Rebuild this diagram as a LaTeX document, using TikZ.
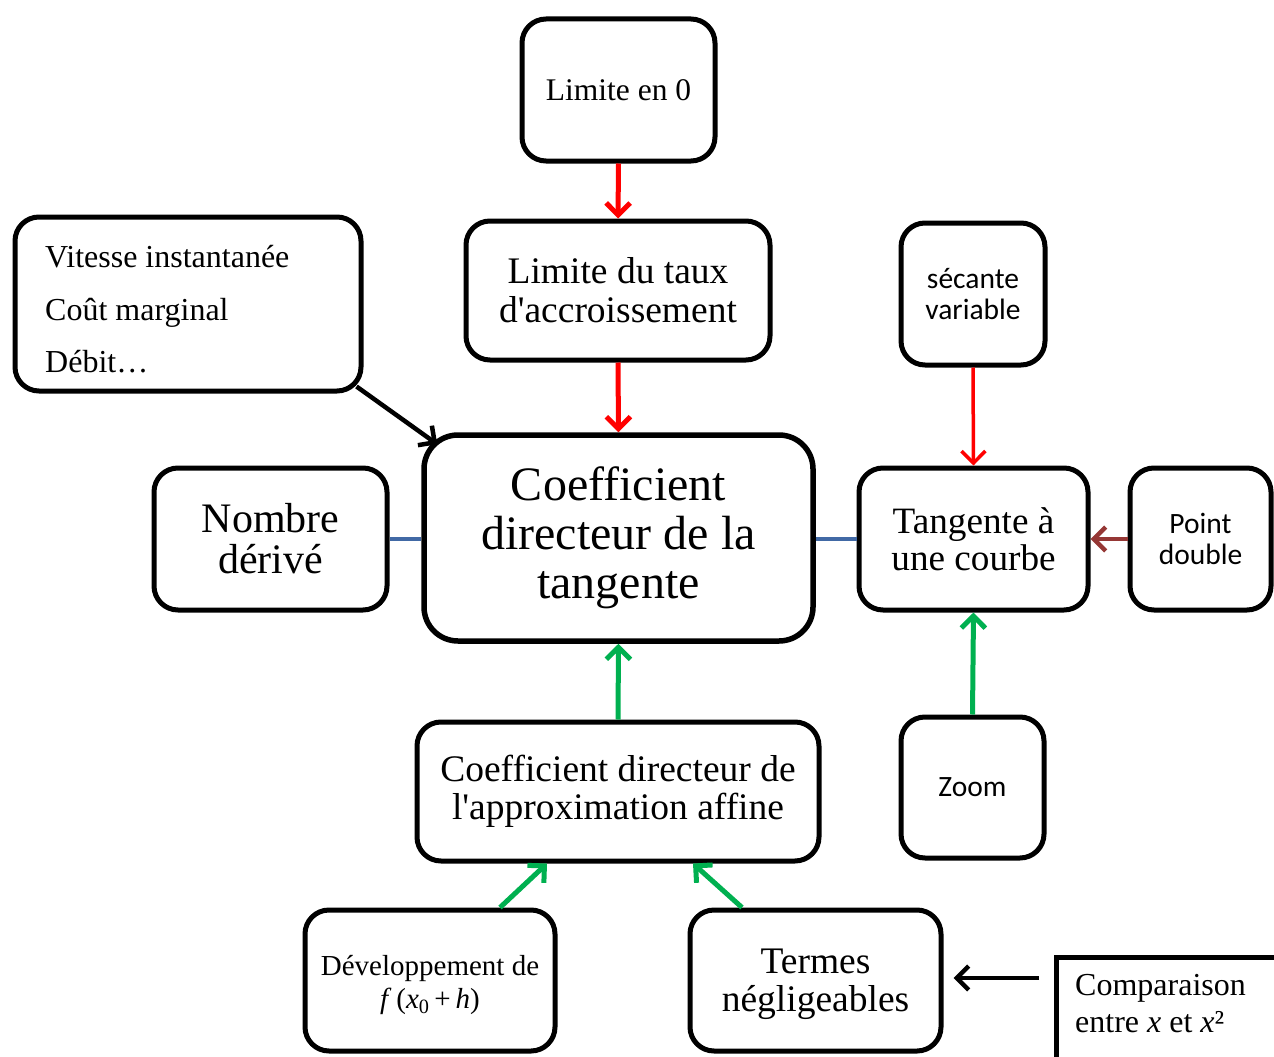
\documentclass[tikz,border=0pt]{standalone}
\usepackage{fontspec}
\setmainfont{Liberation Serif}
\newfontfamily\calib{Carlito}
\usetikzlibrary{arrows.meta}
\definecolor{cred}{HTML}{FF0000}
\definecolor{cgreen}{HTML}{00B050}
\definecolor{cblue}{HTML}{4169A5}
\definecolor{cbrown}{HTML}{953735}
\begin{document}
\begin{tikzpicture}[x=1pt,y=-1pt,
  box/.style={draw, line width=5pt, rounded corners=24pt, inner sep=0pt, align=center, fill=white},
  tip/.style={-{Straight Barb[length=12pt,width=24pt]}},
  redarrow/.style={tip, draw=cred, line width=5pt},
  thinred/.style={tip, draw=cred, line width=3.5pt},
  greenarrow/.style={tip, draw=cgreen, line width=5pt},
  blackarrow/.style={tip, draw=black, line width=4.5pt},
  brownarrow/.style={tip, draw=cbrown, line width=4.5pt},
  blueline/.style={draw=cblue, line width=4.5pt},
  txt/.style={inner sep=0pt, anchor=base west}]
\useasboundingbox (0,0) rectangle (1274,1057);
\clip (0,0) rectangle (1274,1057);

\node[box, minimum width=193pt, minimum height=142pt, font=\fontsize{31.5}{36}\selectfont] (lim0) at (618.5,90) {Limite en 0};
\node[box, minimum width=304pt, minimum height=139pt, font=\fontsize{37.5}{39}\selectfont] (taux) at (618,290.5) {Limite du taux\\d\textquotesingle accroissement};
\node[box, minimum width=389pt, minimum height=206pt, rounded corners=34pt, line width=5.5pt, font=\fontsize{48}{49}\selectfont] (main) at (618.5,538) {Coefficient\\directeur de la\\tangente};
\node[box, minimum width=233pt, minimum height=142pt, font=\fontsize{42}{41}\selectfont] (nd) at (270.5,539) {Nombre\\dérivé};
\node[box, minimum width=229pt, minimum height=142pt, font=\fontsize{37.2}{37}\selectfont] (tang) at (973.5,539) {Tangente à\\une courbe};
\node[box, minimum width=141pt, minimum height=142pt, font=\calib\fontsize{29.5}{31}\selectfont] (pd) at (1200.5,539) {Point\\double};
\node[box, minimum width=144pt, minimum height=142pt, font=\calib\fontsize{29.5}{31}\selectfont] (sec) at (973,294) {sécante\\variable};
\node[box, minimum width=143pt, minimum height=141pt, font=\calib\fontsize{29.5}{31}\selectfont] (zoom) at (972.5,787.5) {Zoom};
\node[box, minimum width=402pt, minimum height=139pt, font=\fontsize{37.5}{38}\selectfont] (approx) at (618,791.5) {Coefficient directeur de\\l\textquotesingle approximation affine};
\node[box, minimum width=250pt, minimum height=141pt, font=\fontsize{29}{33}\selectfont] (dev) at (430,980.5) {\rule{0pt}{30pt}Développement de\\\textit{f}\,(\textit{x}\textsubscript{0}\,+\,\textit{h})};
\node[box, minimum width=251pt, minimum height=141pt, font=\fontsize{37.5}{38}\selectfont] (term) at (815.5,980.5) {\rule{0pt}{33pt}Termes\\négligeables};

\node[box, minimum width=346pt, minimum height=174pt] (vit) at (188,304) {};
\node[txt, font=\fontsize{32}{36}\selectfont] (v1) at (45,267) {Vitesse instantanée};
\node[txt, font=\fontsize{32}{36}\selectfont] (v2) at (45,320) {Coût marginal};
\node[txt, font=\fontsize{32}{36}\selectfont] (v3) at (45,372) {Débit…};

\node[draw, line width=5pt, inner sep=0pt, anchor=north west, minimum width=300pt, minimum height=200pt] (comp) at (1054,955) {};
\node[txt, font=\fontsize{32}{36}\selectfont] (c1) at (1075,995) {Comparaison};
\node[txt, font=\fontsize{32}{36}\selectfont] (c2) at (1075,1032) {entre \textit{x} et \textit{x}²};

\draw[redarrow] (lim0.south) -- (taux.north);
\draw[redarrow] (taux.south) -- (main.north);
\draw[blackarrow] ([shift={(-7,-7)}]vit.south east) -- ([shift={(16,12)}]main.north west);
\draw[blueline] (nd.east) -- (nd.east -| main.west);
\draw[blueline] (main.east |- tang.west) -- (tang.west);
\draw[thinred] (sec.south) -- (tang.north);
\draw[brownarrow] (pd.west) -- (tang.east);
\draw[greenarrow] (zoom.north) -- (tang.south);
\draw[greenarrow] (approx.north) -- (main.south);
\draw[greenarrow] (dev.north -| 500,0) -- (approx.south -| 547,0);
\draw[greenarrow] (term.north -| 742,0) -- (approx.south -| 693,0);
\draw[blackarrow, shorten <=15pt, shorten >=10pt] (comp.north west |- 0,978) -- (term.east |- 0,978);
\end{tikzpicture}
\end{document}
